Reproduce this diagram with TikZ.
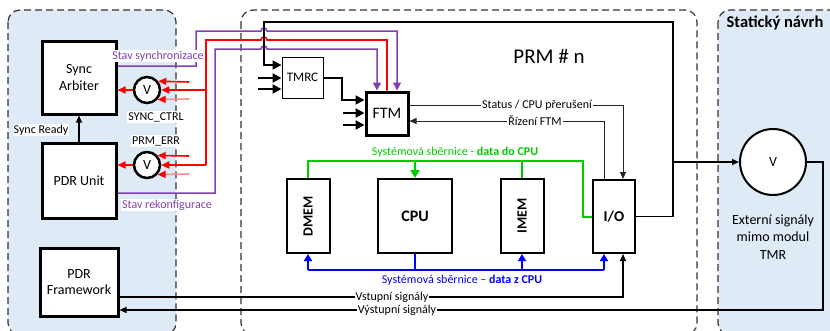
\documentclass[tikz,border=0pt]{standalone}
\usepackage{fontspec}
\setmainfont{Carlito}
\usetikzlibrary{arrows.meta}
\definecolor{panelblue}{RGB}{222,235,247}
\definecolor{ppl}{RGB}{128,64,176}
\definecolor{grn}{RGB}{0,204,0}
\definecolor{bl}{RGB}{0,0,255}
\begin{document}
\begin{tikzpicture}[x=1pt,y=-1pt,
  every node/.style={font=\fontsize{12}{14}\selectfont},
  panel/.style={draw=black!80, dash pattern=on 7pt off 4pt, line width=1.2pt, rounded corners=12pt},
  blk/.style={draw, line width=3pt, fill=white, align=center, inner sep=0pt, font=\fontsize{14}{16.5}\selectfont},
  mem/.style={draw, line width=2pt, fill=white, inner sep=0pt},
  voter/.style={circle, draw, line width=2.5pt, fill=white, minimum size=26pt, inner sep=0pt, font=\fontsize{14}{16}\selectfont},
  conn/.style={line width=1.3pt},
  thin/.style={line width=1pt, draw=black!85},
  arr/.style={-{Triangle[length=7pt,width=6pt]}},
  bigarr/.style={line width=2.2pt,-{Triangle[length=9pt,width=9pt]}},
  rarr/.style={line width=1.6pt,-{Triangle[length=8pt,width=7pt,color=red]}},
  parr/.style={line width=1.5pt,-{Triangle[length=8pt,width=8pt]}},
  garr/.style={-{Triangle[length=8pt,width=9pt]}},
  barr/.style={-{Triangle[length=7pt,width=8pt]}},
  lbl/.style={fill=white, inner sep=1pt},
]
\useasboundingbox (0,0) rectangle (830,330);
\clip (0,0) rectangle (830,330);

% panels
\draw[panel, fill=panelblue] (8,10) rectangle (176,335);
\draw[panel] (241,10) rectangle (697,335);
\draw[panel, fill=panelblue] (718,10) rectangle (850,335);

\node[font=\bfseries\fontsize{16.5}{18}\selectfont] (title) at (775,23) {Statický návrh};
\node[align=center, font=\fontsize{14}{17.5}\selectfont] (ext) at (773,237) {Externí signály\\mimo modul\\TMR};
\node[font=\fontsize{21}{24}\selectfont] (prm) at (549,56) {PRM \# n};

% blocks
\node[blk, minimum width=74pt, minimum height=73pt] (sa) at (79,77.5) {Sync\\Arbiter};
\node[blk, minimum width=74pt, minimum height=75pt] (pu) at (79,180.5) {PDR Unit};
\node[blk, minimum width=78pt, minimum height=68pt] (pf) at (79,282) {PDR\\Framework};

\node[draw, line width=1pt, fill=white, minimum width=41pt, minimum height=41pt, inner sep=0pt, font=\fontsize{13}{15}\selectfont] (tmrc) at (302.5,77.5) {TMRC};
\node[blk, minimum width=42pt, minimum height=43pt, font=\fontsize{16}{18}\selectfont] (ftm) at (387,113.5) {FTM};

\node[mem, minimum width=43pt, minimum height=74pt] (dmem) at (308,216) {};
\node[rotate=90, font=\bfseries\fontsize{14}{16}\selectfont] (dmemt) at (dmem) {DMEM};
\node[mem, minimum width=74pt, minimum height=74pt, font=\bfseries\fontsize{16}{18}\selectfont] (cpu) at (415,216) {CPU};
\node[mem, minimum width=43pt, minimum height=74pt] (imem) at (522,216) {};
\node[rotate=90, font=\bfseries\fontsize{14}{16}\selectfont] (imemt) at (imem) {IMEM};
\node[mem, minimum width=42pt, minimum height=73pt, font=\bfseries\fontsize{15}{17}\selectfont] (io) at (614,216.5) {I/O};

\node[voter] (sv) at (147,90) {V};
\node[voter] (pv) at (147,165) {V};
\node[circle, draw, line width=2pt, fill=white, minimum size=66pt, inner sep=0pt, font=\fontsize{14}{16}\selectfont] (rv) at (773,162) {V};

% coordinates
\coordinate (rj1) at (206,90);
\coordinate (rj2) at (206,165);
\coordinate (s1a) at (189,82);
\coordinate (s1b) at (189,99);
\coordinate (s2a) at (189,156);
\coordinate (s2b) at (189,174);
\coordinate (bj) at (673,162);
\coordinate (t2) at (258,78);
\coordinate (t3) at (258,89);
\coordinate (f2) at (343,113);
\coordinate (f3) at (343,125);
\coordinate (bl1) at (308,270);
\coordinate (bl3) at (522,270);
\coordinate (bl4) at (604,270);

% purple lines
\draw[ppl, parr] (sa.east |- 0,66) -- (196,66) -- (196,31) -- (261,31) .. controls (261,27) and (267,27) .. (267,31) -- (397,31) -- (ftm.north -| 397,0);
\draw[ppl, parr] (pu.east |- 0,193) -- (215,193) -- (215,49) -- (261,49) .. controls (261,45) and (267,45) .. (267,49) -- (377,49) -- (ftm.north -| 377,0);

% red lines
\draw[red, line width=1.6pt] (ftm.north -| 387,0) -- (387,40) -- (267,40) .. controls (267,36) and (261,36) .. (261,40) -- (206,40) -- (rj2);
\draw[red, rarr] (rj1) -- (sv.east);
\draw[red, rarr] (rj2) -- (pv.east);
\draw[red, rarr] (s1a) -- (sv.38);
\draw[red!45, rarr] (s1b) -- (sv.-42);
\draw[red, rarr] (s2a) -- (pv.42);
\draw[red!45, rarr] (s2b) -- (pv.-42);
\draw[red, line width=1.6pt, -{Triangle[length=8pt,width=7pt]}] (sv.west) -- (sv.west -| sa.east);
\draw[red, line width=1.6pt, -{Triangle[length=8pt,width=7pt]}] (pv.west) -- (pv.west -| pu.east);

% black feedback loop
\draw[conn, -{Triangle[length=9pt,width=9pt]}] (io.east) -- (673,216.5) -- (673,22) -- (264,22) -- (264,65) -- (tmrc.west |- 0,65);
\draw[conn, arr] (bj) -- (rv.west);
\draw[conn, arr] (rv.east) -- (823,162) -- (823,310) -- (pf.east |- 0,310);
\draw[conn, arr] (pf.east |- 0,297) -- (623,297) -- (io.south -| 623,0);

% TMRC / FTM
\draw[bigarr] (t2) -- (tmrc.west |- t2);
\draw[bigarr] (t3) -- (tmrc.west |- t3);
\draw[line width=1.8pt, -{Triangle[length=9pt,width=9pt]}] (tmrc.east |- 0,78) -- (342,78) -- (342,100) -- (ftm.west |- 0,100);
\draw[bigarr] (f2) -- (ftm.west |- f2);
\draw[bigarr] (f3) -- (ftm.west |- f3);

\draw[thin, arr] (ftm.east |- 0,105) -- (623,105) -- (io.north -| 623,0);
\draw[thin, arr] (io.north -| 604,0) -- (604,121) -- (ftm.east |- 0,121);

% green bus
\draw[grn, line width=1.8pt] (dmem.north) -- (308,161) -- (583,161) -- (583,217) -- (io.west |- 0,217);
\draw[grn, line width=1.8pt] (imem.north) -- (imem.north |- 0,161);
\draw[grn, line width=1.8pt, garr] (cpu.north |- 0,161) -- (cpu.north);

% blue bus
\draw[bl, line width=1.8pt] (cpu.south) -- (cpu.south |- bl1);
\draw[bl, line width=1.8pt] (bl1) -- (bl4);
\draw[bl, line width=1.8pt, barr] (bl1) -- (dmem.south);
\draw[bl, line width=1.8pt, barr] (bl3) -- (imem.south);
\draw[bl, line width=1.8pt, barr] (bl4) -- (io.south -| bl4);

% Sync ready
\draw[conn, arr] (pu.north) -- (sa.south);

% labels
\node[lbl] (sr) at (41,130) {Sync Ready};
\node[lbl, text=ppl] (ssl) at (158,56) {Stav synchronizace};
\node[lbl, text=ppl] (srl) at (167,205) {Stav rekonfigurace};
\node[lbl] (svl) at (156,117) {SYNC\_CTRL};
\node[lbl] (pvl) at (156,141) {PRM\_ERR};
\node[lbl] (st) at (537,105) {Status / CPU přerušení};
\node[lbl] (riz) at (535,121) {Řízení FTM};
\node[text=grn] (gl) at (455,152) {Systémová sběrnice - \textbf{data do CPU}};
\node[text=bl] (bll) at (462,280) {Systémová sběrnice – \textbf{data z CPU}};
\node[lbl, inner sep=0.5pt] (vst) at (392,297) {Vstupní signály};
\node[lbl, inner sep=0.5pt] (vys) at (397,310) {Výstupní signály};
\end{tikzpicture}
\end{document}
